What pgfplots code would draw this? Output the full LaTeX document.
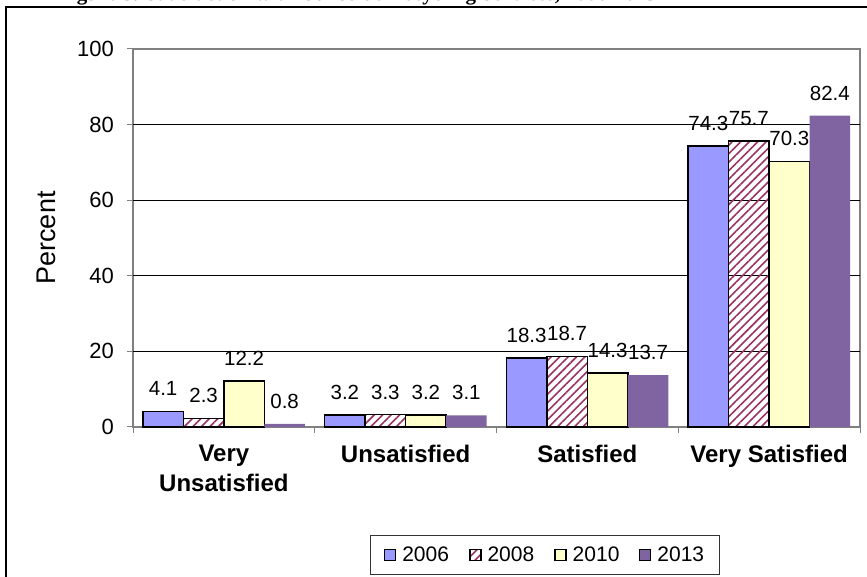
\documentclass[border=0pt]{standalone}
\usepackage{pgfplots}
\pgfplotsset{compat=1.18}
\usepackage{fontspec}
\setmainfont{Liberation Sans}
\newfontfamily\titlefont{Liberation Serif}
\usetikzlibrary{patterns.meta}
\definecolor{c2006}{HTML}{9999FF}
\definecolor{c2008}{HTML}{993366}
\definecolor{c2010}{HTML}{FFFFCC}
\definecolor{c2013}{HTML}{8064A2}
\definecolor{axgray}{HTML}{808080}
\newcommand{\catf}{\fontsize{24}{30}\selectfont}
\newcommand{\tickf}{\fontsize{22}{26}\selectfont}
\newcommand{\labf}{\fontsize{20.5}{25}\selectfont}
\newcommand{\legf}{\fontsize{21}{25}\selectfont}
\newcommand{\ylabf}{\fontsize{27}{32}\selectfont}
\begin{document}
\begin{tikzpicture}
\useasboundingbox (0pt,0pt) rectangle (867pt,577pt);
\begin{scope}
\clip (0pt,0pt) rectangle (867pt,577pt);
\node[anchor=base west, inner sep=0, font=\titlefont\bfseries\fontsize{21}{24}\selectfont] at (58pt,576pt) {Figure 3. Satisfaction with Curbside Recycling Services, 2006-2013};
\end{scope}
\draw[line width=2pt] (6pt,-2pt) -- (6pt,570pt) -- (869pt,570pt);
\begin{axis}[
  at={(133pt,150pt)}, anchor=south west,
  scale only axis, width=727pt, height=378pt,
  xmin=-0.5, xmax=3.5, ymin=0, ymax=100,
  ybar=0pt, bar width=0.2228,
  xtick={0,1,2,3},
  xticklabels={{Very\\Unsatisfied},Unsatisfied,Satisfied,{Very Satisfied}},
  xticklabel style={align=center, font=\catf\bfseries, inner sep=0pt, anchor=north, yshift=-12pt},
  major x tick style={draw=none},
  minor xtick={-0.5,0.5,1.5,2.5,3.5},
  ytick={0,20,40,60,80,100},
  yticklabel style={font=\tickf, inner sep=0pt, anchor=east, xshift=-13pt},
  /pgf/number format/assume math mode=true,
  extra y ticks={20,40,60,80},
  extra y tick labels={},
  extra y tick style={grid=major, major tick length=0pt},
  grid style={black, line width=0.8pt},
  tick align=outside, tick pos=left,
  major tick length=6pt, minor tick length=6pt,
  every tick/.style={axgray, line width=1pt},
  axis line style={axgray, line width=1.2pt},
  ylabel={Percent},
  ylabel style={font=\ylabf, at={(axis description cs:-0.1197,0.5)}, anchor=center},
  nodes near coords,
  nodes near coords style={font=\labf, inner sep=0pt, anchor=base, yshift=15.5pt,
     /pgf/number format/fixed, /pgf/number format/precision=1, /pgf/number format/fixed zerofill},
  legend image code/.code={\draw[#1] (0pt,-5.5pt) rectangle (11pt,5.5pt);},
  legend columns=4,
  legend style={at={(axis description cs:0.5667,-0.3386)}, anchor=center,
     draw=black!80, line width=1pt, font=\legf, inner xsep=13pt, inner ysep=9pt,
     /tikz/every even column/.append style={column sep=18pt},
     /tikz/every odd column/.append style={column sep=4pt},
     cells={inner sep=0pt}},
  clip=false,
]
\addplot[fill=c2006, draw=black, line width=1.5pt] coordinates {(0,4.1) (1,3.2) (2,18.3) (3,74.3)};
\addplot[pattern={Lines[angle=45,distance=6pt,line width=1.6pt]}, pattern color=c2008, draw=black, line width=1.5pt] coordinates {(0,2.3) (1,3.3) (2,18.7) (3,75.7)};
\addplot[fill=c2010, draw=black, line width=1.5pt] coordinates {(0,12.2) (1,3.2) (2,14.3) (3,70.3)};
\addplot[fill=c2013, draw=none] coordinates {(0,0.8) (1,3.1) (2,13.7) (3,82.4)};
\legend{2006,2008,2010,2013}
\end{axis}
\end{tikzpicture}
\end{document}
